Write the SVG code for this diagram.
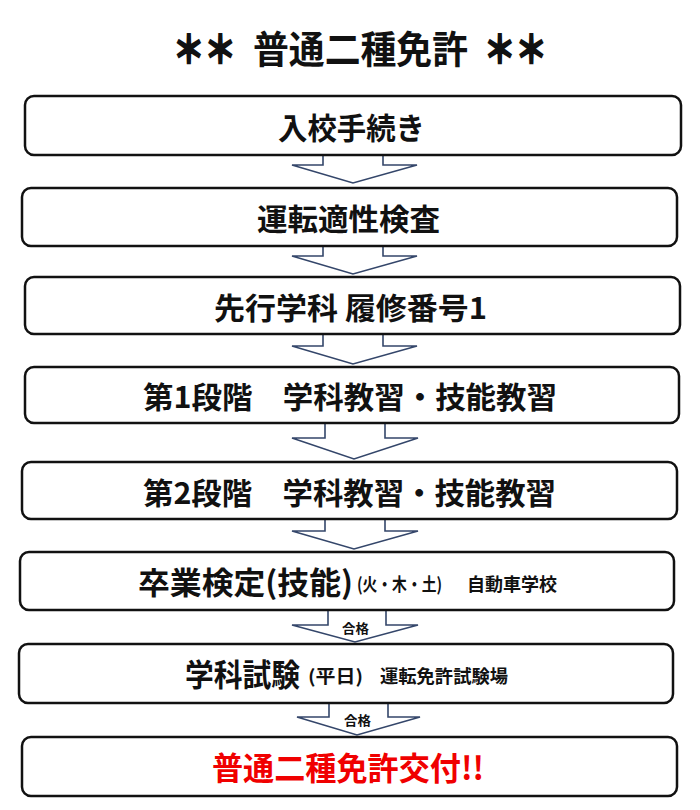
<svg xmlns="http://www.w3.org/2000/svg" width="700" height="810" viewBox="0 0 700 810">
<style>
.box{fill:#fff;stroke:#111;stroke-width:2.5}
.arr{fill:#fff;stroke:#34466a;stroke-width:1.6;stroke-linejoin:miter}
.t{font-family:"Noto Sans CJK JP","Noto Sans CJK SC",sans-serif;font-weight:700;fill:#111;dominant-baseline:central}
.big{font-size:30px}
.sm{font-size:18px}
.lbl{font-size:13px}
.ast{stroke:#111;stroke-width:2;font-size:38px}
</style>
<rect width="700" height="810" fill="#fff"/>
<g id="title">
<text class="t ast" x="173" y="46" textLength="63" lengthAdjust="spacingAndGlyphs">＊＊</text>
<text class="t" x="253" y="46" font-size="38" textLength="215" lengthAdjust="spacingAndGlyphs">普通二種免許</text>
<text class="t ast" x="484" y="46" textLength="63" lengthAdjust="spacingAndGlyphs">＊＊</text>
</g>
<g id="connectors">
<polygon class="arr" points="323,153 323,165 292,165 353,183 417,165 383,165 383,153"/>
<polygon class="arr" points="323,244 323,256 292,256 353,274 417,256 383,256 383,244"/>
<polygon class="arr" points="323,332 323,346 292,346 353,364 417,346 383,346 383,332"/>
<polygon class="arr" points="325,421 325,438 292,438 354,459 418,438 385,438 385,421"/>
<polygon class="arr" points="325,517 325,531 292,531 354,549 418,531 385,531 385,517"/>
<polygon class="arr" points="328,608 328,625 292,625 355,642 418,625 386,625 386,608"/>
<polygon class="arr" points="329,701 329,717 297,717 357,735 420,717 388,717 388,701"/>
<text class="t lbl" x="342" y="627" textLength="27" lengthAdjust="spacingAndGlyphs">合格</text>
<text class="t lbl" x="344" y="719" textLength="27" lengthAdjust="spacingAndGlyphs">合格</text>
</g>
<g id="n1"><rect class="box" x="25" y="96" width="656" height="59" rx="9"/>
<text class="t big" x="278" y="126" textLength="147" lengthAdjust="spacingAndGlyphs">入校手続き</text></g>
<g id="n2"><rect class="box" x="22" y="188" width="655" height="58" rx="9"/>
<text class="t big" x="257" y="217" textLength="183" lengthAdjust="spacingAndGlyphs">運転適性検査</text></g>
<g id="n3"><rect class="box" x="25" y="277" width="655" height="57" rx="9"/>
<text class="t big" x="214" y="306" textLength="273" lengthAdjust="spacingAndGlyphs">先行学科 履修番号1</text></g>
<g id="n4"><rect class="box" x="25" y="367" width="654" height="56" rx="9"/>
<text class="t big" x="143" y="395" textLength="414" lengthAdjust="spacingAndGlyphs">第1段階　学科教習・技能教習</text></g>
<g id="n5"><rect class="box" x="22" y="462" width="655" height="57" rx="9"/>
<text class="t big" x="143" y="491" textLength="413" lengthAdjust="spacingAndGlyphs">第2段階　学科教習・技能教習</text></g>
<g id="n6"><rect class="box" x="20" y="552" width="654" height="58" rx="9"/>
<text class="t" x="138" y="580" font-size="31" textLength="215" lengthAdjust="spacingAndGlyphs">卒業検定(技能)</text>
<text class="t sm" x="357" y="583" textLength="85" lengthAdjust="spacingAndGlyphs">(火・木・土)</text>
<text class="t sm" x="467" y="583" textLength="90" lengthAdjust="spacingAndGlyphs">自動車学校</text></g>
<g id="n7"><rect class="box" x="19" y="644" width="654" height="59" rx="9"/>
<text class="t" x="185" y="672" font-size="31" textLength="115" lengthAdjust="spacingAndGlyphs">学科試験</text>
<text class="t sm" x="308" y="675" textLength="55" lengthAdjust="spacingAndGlyphs">(平日)</text>
<text class="t sm" x="380" y="675" textLength="128" lengthAdjust="spacingAndGlyphs">運転免許試験場</text></g>
<g id="n8"><rect class="box" x="22" y="737" width="655" height="59" rx="9"/>
<text class="t" x="212" y="766" font-size="32" style="fill:#f00000" textLength="272" lengthAdjust="spacingAndGlyphs">普通二種免許交付!!</text></g>
</svg>
